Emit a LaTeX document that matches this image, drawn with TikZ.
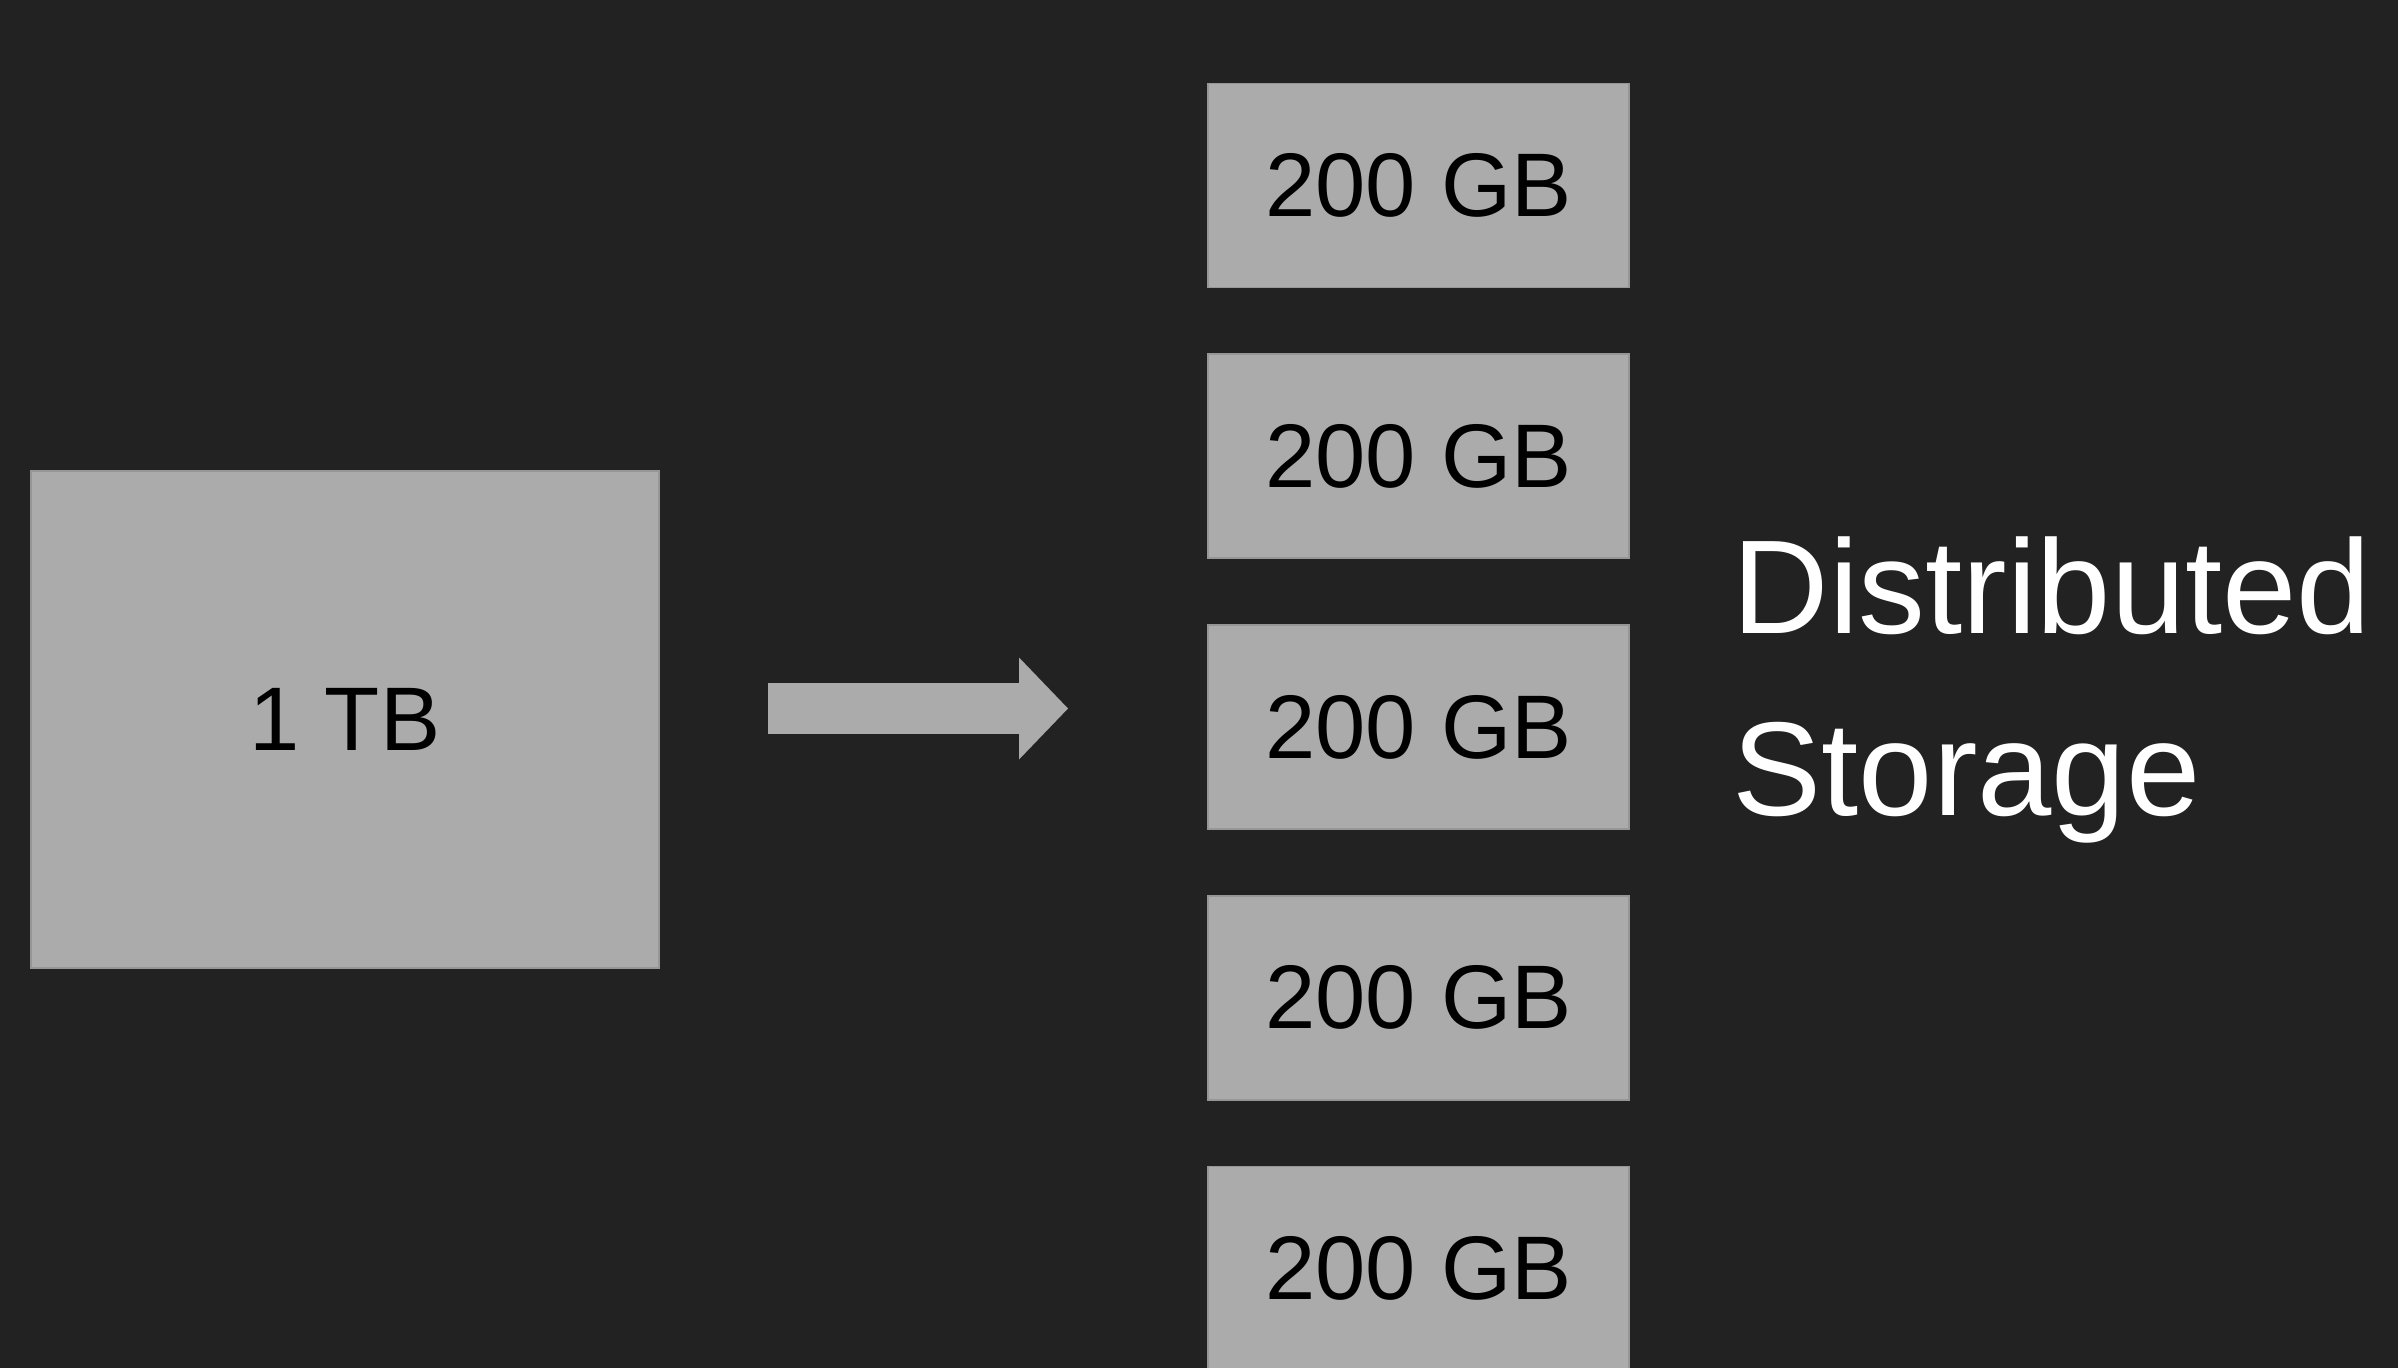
\documentclass[tikz,border=0pt]{standalone}
\usepackage{fontspec}
\setmainfont{Liberation Sans}
\usetikzlibrary{matrix,arrows.meta}
\definecolor{bgdark}{RGB}{34,34,34}
\definecolor{boxgray}{RGB}{171,171,171}
\definecolor{boxedge}{RGB}{150,150,150}
\tikzset{
  gbbox/.style={fill=boxgray, draw=boxedge, line width=0.5pt,
    minimum width=4.21cm, minimum height=2.04cm, inner sep=0pt,
    font=\fontsize{25.7}{30}\selectfont, text=black},
}

\begin{document}
\begin{tikzpicture}
  \fill[bgdark] (0,0) rectangle (23.98,-13.68);
  \useasboundingbox (0,0) rectangle (23.98,-13.68);

  \node[gbbox, minimum width=6.28cm, minimum height=4.97cm] (tb) at (3.45,-7.195) {1 TB};

  \matrix[matrix of nodes, nodes={gbbox}, row sep=0.65cm, inner sep=0pt] (col) at (14.185,-7.27)
  {
    200 GB \\
    200 GB \\
    200 GB \\
    200 GB \\
    200 GB \\
  };

  \coordinate (arrs) at (7.68,-7.085);
  \coordinate (arre) at (10.68,-7.085);
  \draw[boxgray, line width=0.51cm, -{Triangle[length=0.49cm, width=1.02cm, line width=0pt]}] (arrs) -- (arre);

  \node[font=\fontsize{38}{52}\selectfont, text=white, align=left, anchor=west, inner sep=0pt] (dist) at (17.32,-6.90) {Distributed\\Storage};
\end{tikzpicture}
\end{document}
